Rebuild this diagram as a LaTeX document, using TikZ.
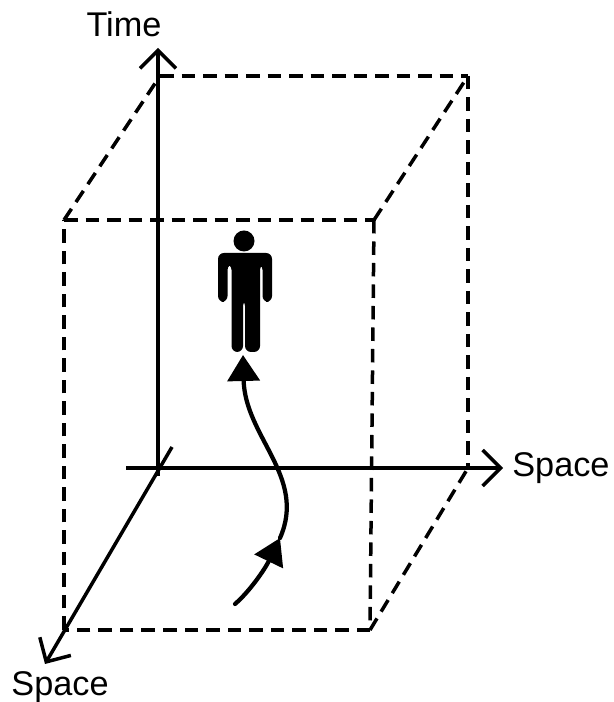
\documentclass[tikz,border=0pt]{standalone}
\usepackage{fontspec}
\setmainfont{Liberation Sans}
\usetikzlibrary{arrows.meta}
\tikzset{
  cubeedge/.style={black,line width=.07cm,dash pattern=on .27cm off .16cm},
  axisline/.style={black,line width=.07cm,-{Straight Barb[length=.36cm,width=.72cm,line width=.07cm]}},
  routeline/.style={black,line width=.085cm,line cap=round},
  axislabel/.style={inner sep=0pt,font=\fontsize{19.5}{22}\selectfont},
}
\begin{document}
\begin{tikzpicture}[x=1cm,y=1cm]
\path[use as bounding box] (0,0) rectangle (12.26,14.04);
\fill[white] (0,0) rectangle (12.26,14.04);
% box corners
\coordinate (backTL) at (3.20,12.52);
\coordinate (backTR) at (9.36,12.52);
\coordinate (backBR) at (9.36,4.68);
\coordinate (frontTL) at (1.28,9.64);
\coordinate (frontTR) at (7.48,9.64);
\coordinate (frontBL) at (1.28,1.44);
\coordinate (frontBR) at (7.40,1.44);
\draw[cubeedge] (backTL) -- (backTR);
\draw[cubeedge] (backTR) -- (backBR);
\draw[cubeedge] (frontTL) -- (frontTR);
\draw[cubeedge] (frontTR) -- (frontBR);
\draw[cubeedge] (frontBR) -- (frontBL);
\draw[cubeedge] (frontBL) -- (frontTL);
\draw[cubeedge] (frontTL) -- (backTL);
\draw[cubeedge] (frontTR) -- (backTR);
\draw[cubeedge] (frontBR) -- (backBR);
% axes
\coordinate (timeFrom) at (3.16,4.52);
\coordinate (timeTo) at (3.16,13.08);
\coordinate (rightFrom) at (2.52,4.68);
\coordinate (rightTo) at (10.06,4.68);
\coordinate (leftFrom) at (3.44,5.10);
\coordinate (leftTo) at (0.90,0.76);
\draw[axisline] (timeFrom) -- (timeTo);
\draw[axisline] (rightFrom) -- (rightTo);
\draw[axisline] (leftFrom) -- (leftTo);
\node[axislabel] (timeLabel) at (2.48,13.56) {Time};
\node[axislabel,anchor=west] (rightLabel) at (10.24,4.68) {Space};
\node[axislabel] (leftLabel) at (1.20,0.30) {Space};
% route of the person
\coordinate (routeStart) at (4.70,1.96);
\coordinate (routeMid) at (5.60,3.28);
\coordinate (routeEnd) at (4.86,6.94);
\draw[routeline,-{Triangle[length=.52cm,width=.62cm]}] (routeStart) .. controls (5.00,2.22) and (5.30,2.66) .. (routeMid);
\draw[routeline,-{Triangle[length=.52cm,width=.64cm]}] (routeMid) .. controls (6.14,4.50) and (4.90,5.30) .. (routeEnd);
% person
\fill[black] (4.88,9.22) circle (.21);
\fill[black,rounded corners=.12cm] (4.36,8.00) -- (4.36,8.98) -- (5.44,8.98) -- (5.44,8.00) -- (5.25,8.00) -- (5.25,8.76) -- (5.20,8.76) -- (5.20,7.00) -- (4.90,7.00) -- (4.90,8.04) -- (4.86,8.04) -- (4.86,7.00) -- (4.63,7.00) -- (4.63,8.76) -- (4.55,8.76) -- (4.55,8.00) -- cycle;
\end{tikzpicture}
\end{document}
